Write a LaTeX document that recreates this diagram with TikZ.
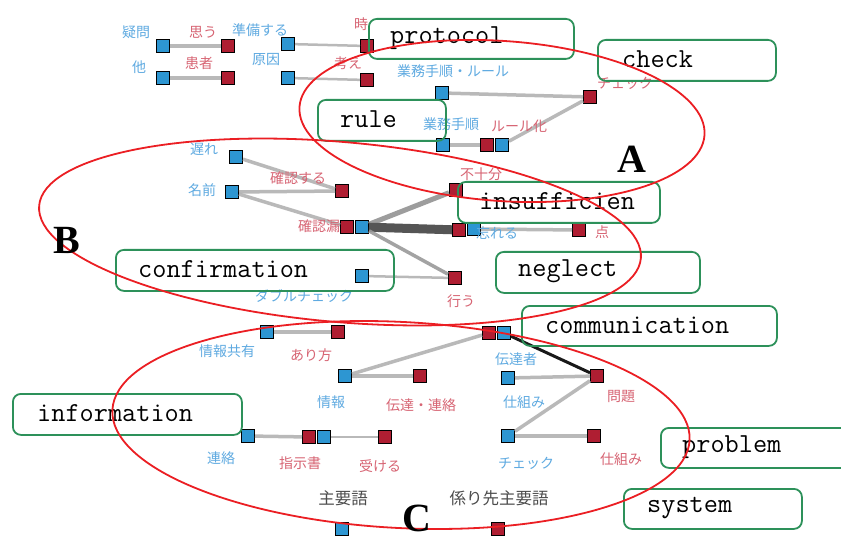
\documentclass[tikz,border=0pt]{standalone}
\usepackage{fontspec}
\newfontfamily\jpfont{Noto Sans CJK JP}
\newfontfamily\letterfont{Liberation Serif}
\definecolor{nb}{RGB}{45,150,210}
\definecolor{nr}{RGB}{175,30,50}
\definecolor{lbc}{RGB}{95,170,225}
\definecolor{lrc}{RGB}{215,100,115}
\definecolor{egc}{RGB}{178,178,178}
\definecolor{dkc}{RGB}{85,85,85}
\definecolor{bgc}{RGB}{45,145,90}
\definecolor{elc}{RGB}{235,30,35}
\begin{document}
\begin{tikzpicture}[x=1pt,y=-1pt,
  bn/.style={draw=black, fill=nb, minimum size=13pt, inner sep=0pt, line width=1pt},
  rn/.style={draw=black, fill=nr, minimum size=13pt, inner sep=0pt, line width=1pt},
  eg/.style={draw=egc, line width=3.5pt, opacity=0.9},
  lb/.style={text=lbc, font=\jpfont\fontsize{14}{14}\selectfont, inner sep=0pt},
  lr/.style={text=lrc, font=\jpfont\fontsize{14}{14}\selectfont, inner sep=0pt},
  lk/.style={text=black!70, font=\jpfont\fontsize{16.5}{16.5}\selectfont, inner sep=0pt},
  gbox/.style={draw=bgc, line width=1.8pt, rounded corners=8pt, anchor=north west, inner sep=0pt},
  gtxt/.style={anchor=west, inner sep=0pt, font=\ttfamily\fontsize{27.5}{28}\selectfont},
  ell/.style={draw=elc, line width=1.8pt},
  big/.style={font=\letterfont\bfseries\fontsize{40}{40}\selectfont, inner sep=0pt}
]
\useasboundingbox (0,0) rectangle (841,540);
\fill[white] (0,0) rectangle (841,540);

% ---------- top-left group ----------
\node[bn] (t1b) at (163,46) {};
\node[rn] (t1r) at (228,46) {};
\node[bn] (t2b) at (163,78) {};
\node[rn] (t2r) at (228,78) {};
\node[bn] (t3b) at (288,44) {};
\node[rn] (t3r) at (367,46) {};
\node[bn] (t4b) at (288,78) {};
\node[rn] (t4r) at (367,80) {};
\draw[eg] (t1b) -- (t1r);
\draw[eg] (t2b) -- (t2r);
\draw[eg, line width=2.5pt] (t3b) -- (t3r);
\draw[eg, line width=2.5pt] (t4b) -- (t4r);
\node[lb] (q1) at (136,32) {疑問};
\node[lr] (q2) at (203,32) {思う};
\node[lb] (q3) at (260,30) {準備する};
\node[lr] (q4) at (361,24) {時};
\node[lb] (q5) at (139,67) {他};
\node[lr] (q6) at (199,63) {患者};
\node[lb] (q7) at (266,60) {原因};
\node[lr] (q8) at (348,63) {考え};

% ---------- group A ----------
\node[bn] (a1b) at (442,93) {};
\node[rn] (a1r) at (590,97) {};
\node[bn] (a2b) at (443,145) {};
\node[rn] (a2r) at (487,145) {};
\node[bn] (a3b) at (502,145) {};
\draw[eg] (a1b) -- (a1r);
\draw[eg] (a2b) -- (a2r);
\draw[eg] (a3b) -- (a1r);
\node[lb] (qa1) at (453,71) {業務手順・ルール};
\node[lr] (qa2) at (625,83) {チェック};
\node[lb] (qa3) at (451,124) {業務手順};
\node[lr] (qa4) at (519,126) {ルール化};

% ---------- group B ----------
\node[bn] (b1b) at (236,157) {};
\node[bn] (b2b) at (232,192) {};
\node[rn] (b1r) at (342,191) {};
\node[rn] (b2r) at (347,227) {};
\node[bn] (b3b) at (362,227) {};
\node[rn] (b3r) at (456,190) {};
\node[rn] (b4r) at (459,230) {};
\node[bn] (b4b) at (474,229) {};
\node[rn] (b5r) at (579,230) {};
\node[bn] (b5b) at (362,276) {};
\node[rn] (b6r) at (455,278) {};
\draw[eg] (b1b) -- (b1r);
\draw[eg] (b2b) -- (b1r);
\draw[eg] (b2b) -- (b2r);
\draw[draw=black!45, line width=5pt, opacity=0.85] (b3b) -- (b3r);
\draw[draw=dkc, line width=9pt] (b3b) -- (b4r);
\draw[eg, draw=black!40] (b3b) -- (b6r);
\draw[eg] (b4b) -- (b5r);
\draw[eg, line width=2.5pt] (b5b) -- (b6r);
\node[lb] (qb1) at (204,149) {遅れ};
\node[lb] (qb2) at (202,190) {名前};
\node[lr] (qb3) at (298,178) {確認する};
\node[lr] (qb4) at (319,226) {確認漏};
\node[lr] (qb5) at (481,174) {不十分};
\node[lb] (qb6) at (497,233) {忘れる};
\node[lr] (qb7) at (602,232) {点};
\node[lb] (qb8) at (304,296) {ダブルチェック};
\node[lr] (qb9) at (461,301) {行う};

% ---------- group C ----------
\node[bn] (c1b) at (267,332) {};
\node[rn] (c1r) at (338,332) {};
\node[rn] (c2r) at (489,333) {};
\node[bn] (c2b) at (504,333) {};
\node[bn] (c3b) at (345,376) {};
\node[rn] (c3r) at (420,376) {};
\node[bn] (c4b) at (508,378) {};
\node[rn] (c4r) at (597,376) {};
\node[bn] (c5b) at (248,436) {};
\node[rn] (c5r) at (309,437) {};
\node[bn] (c6b) at (324,437) {};
\node[rn] (c6r) at (385,437) {};
\node[bn] (c7b) at (508,436) {};
\node[rn] (c7r) at (594,436) {};
\node[bn] (k1) at (342,529) {};
\node[rn] (k2) at (498,529) {};
\draw[eg] (c1b) -- (c1r);
\draw[eg] (c3b) -- (c2r);
\draw[eg] (c3b) -- (c3r);
\draw[draw=black!90, line width=3pt] (c2b) -- (c4r);
\draw[eg] (c4b) -- (c4r);
\draw[eg] (c7b) -- (c4r);
\draw[eg] (c7b) -- (c7r);
\draw[eg] (c5b) -- (c5r);
\draw[eg, line width=2pt] (c6b) -- (c6r);
\node[lb] (qc1) at (227,351) {情報共有};
\node[lr] (qc2) at (311,355) {あり方};
\node[lb] (qc3) at (516,359) {伝達者};
\node[lb] (qc4) at (331,402) {情報};
\node[lr] (qc5) at (421,405) {伝達・連絡};
\node[lb] (qc6) at (524,402) {仕組み};
\node[lr] (qc7) at (621,396) {問題};
\node[lb] (qc8) at (221,458) {連絡};
\node[lr] (qc9) at (300,463) {指示書};
\node[lr] (qc10) at (380,466) {受ける};
\node[lb] (qc11) at (526,463) {チェック};
\node[lr] (qc12) at (621,459) {仕組み};
\node[lk] (qk1) at (343,498) {主要語};
\node[lk] (qk2) at (499,498) {係り先主要語};

% ---------- green label boxes ----------
\node[gbox, minimum width=205pt, minimum height=40pt] (bx1) at (368,18) {};
\node[gtxt] (tx1) at ([xshift=22pt,yshift=1pt]bx1.west) {protocol};
\node[gbox, minimum width=178pt, minimum height=41pt] (bx2) at (597,39) {};
\node[gtxt] (tx2) at ([xshift=25pt,yshift=1pt]bx2.west) {check};
\node[gbox, minimum width=128pt, minimum height=41pt] (bx3) at (317,99) {};
\node[gtxt] (tx3) at ([xshift=23pt,yshift=1pt]bx3.west) {rule};
\node[gbox, minimum width=202pt, minimum height=41pt] (bx4) at (457,181) {};
\node[gtxt] (tx4) at ([xshift=22pt,yshift=1pt]bx4.west) {insufficien};
\node[gbox, minimum width=278pt, minimum height=41pt] (bx5) at (115,249) {};
\node[gtxt] (tx5) at ([xshift=23pt,yshift=1pt]bx5.west) {confirmation};
\node[gbox, minimum width=204pt, minimum height=41pt] (bx6) at (495,251) {};
\node[gtxt] (tx6) at ([xshift=23pt,yshift=1pt]bx6.west) {neglect};
\node[gbox, minimum width=255pt, minimum height=40pt] (bx7) at (521,305) {};
\node[gtxt] (tx7) at ([xshift=24pt,yshift=1pt]bx7.west) {communication};
\node[gbox, minimum width=229pt, minimum height=41pt] (bx8) at (12,393) {};
\node[gtxt] (tx8) at ([xshift=25pt,yshift=1pt]bx8.west) {information};
\node[gbox, minimum width=200pt, minimum height=40pt] (bx9) at (660,427) {};
\node[gtxt] (tx9) at ([xshift=22pt,yshift=1pt]bx9.west) {problem};
\node[gbox, minimum width=178pt, minimum height=40pt] (bx10) at (623,488) {};
\node[gtxt] (tx10) at ([xshift=24pt,yshift=1pt]bx10.west) {system};

% ---------- red ellipses ----------
\draw[ell, rotate around={-4:(502,121)}] (502,121) ellipse [x radius=203, y radius=80];
\draw[ell, rotate around={-5:(340,232)}] (340,232) ellipse [x radius=302, y radius=90];
\draw[ell, rotate around={-3:(401,425)}] (401,425) ellipse [x radius=289, y radius=103];

% ---------- letters ----------
\node[big] (LA) at (632,159) {A};
\node[big] (LB) at (67,240) {B};
\node[big] (LC) at (417,518) {C};
\end{tikzpicture}
\end{document}
